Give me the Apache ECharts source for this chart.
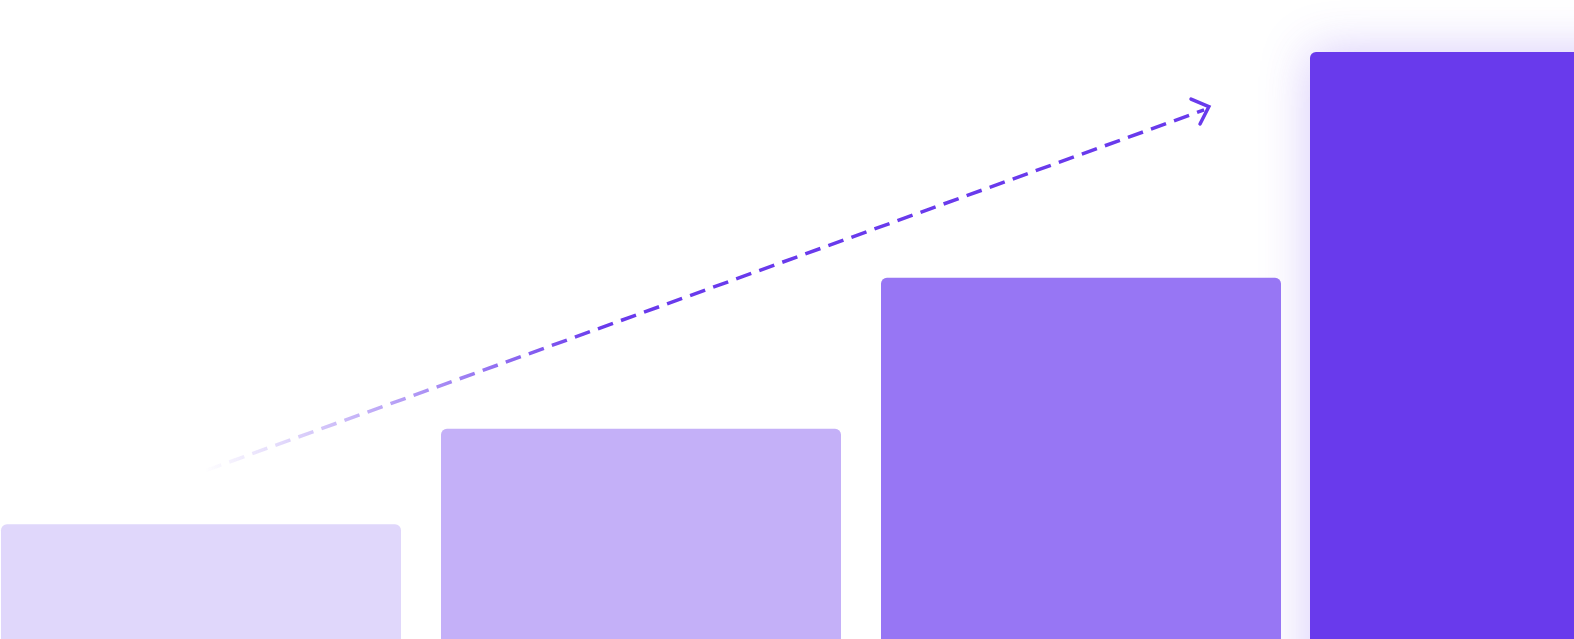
<!DOCTYPE html>
<html>
<head>
<meta charset="utf-8">
<script src="https://cdn.jsdelivr.net/npm/echarts@6/dist/echarts.min.js"></script>
<style>
  html, body { margin: 0; padding: 0; background: #fff; }
  #chart { width: 1574px; height: 639px; }
</style>
</head>
<body>
<div id="chart"></div>
<script>
// bar data
const categories = ['A', 'B', 'C', 'D'];
const barValues = [33.3, 46.8, 68.1, 100];
const barColors = ['#e0d7fb', '#c4b0f8', '#9776f4', '#693aec'];

// arrow (in percent of the canvas)
const arrowLine = [[13.1, 26.4], [76.5, 82.8]];
const arrowHead = [[75.67, 84.5], [76.8, 83.3], [76.24, 80.6]];

const chart = echarts.init(document.getElementById('chart'));

const purple = 'rgba(105,58,236,';

chart.setOption({
  animation: false,
  grid: [
    { left: -19, right: -167, top: 52, bottom: -121, outerBoundsMode: 'none', containLabel: false },
    { left: 0, right: 0, top: 0, bottom: 0, outerBoundsMode: 'none' }
  ],
  xAxis: [
    { type: 'category', data: categories, gridIndex: 0, show: false },
    { type: 'category', data: categories, gridIndex: 0, show: false },
    { type: 'value', min: 0, max: 100, gridIndex: 1, show: false }
  ],
  yAxis: [
    { type: 'value', min: 0, max: 100, gridIndex: 0, show: false },
    { type: 'value', min: 0, max: 100, gridIndex: 1, show: false }
  ],
  series: [
    {
      type: 'bar',
      xAxisIndex: 0,
      yAxisIndex: 0,
      barWidth: 400,
      z: 2,
      data: barValues.slice(0, 3).map((v, i) => ({
        value: v,
        itemStyle: { color: barColors[i], borderRadius: [6, 6, 0, 0] }
      })).concat(['-'])
    },
    {
      type: 'bar',
      xAxisIndex: 1,
      yAxisIndex: 0,
      barWidth: 422,
      z: 1,
      data: ['-', '-', '-', {
        value: barValues[3],
        itemStyle: {
          color: barColors[3],
          borderRadius: [6, 6, 0, 0],
          shadowBlur: 50,
          shadowColor: purple + '0.28)'
        }
      }]
    },
    {
      type: 'line',
      xAxisIndex: 2,
      yAxisIndex: 1,
      symbol: 'none',
      z: 10,
      lineStyle: {
        width: 3.5,
        type: [16, 8.5],
        color: new echarts.graphic.LinearGradient(0, 0, 1, 0, [
          { offset: 0, color: purple + '0)' },
          { offset: 0.4, color: purple + '1)' },
          { offset: 1, color: purple + '1)' }
        ])
      },
      data: arrowLine
    },
    {
      type: 'line',
      xAxisIndex: 2,
      yAxisIndex: 1,
      symbol: 'none',
      z: 10,
      lineStyle: { width: 3.5, color: purple + '1)', cap: 'round', join: 'miter' },
      data: arrowHead
    }
  ]
});
</script>
</body>
</html>
